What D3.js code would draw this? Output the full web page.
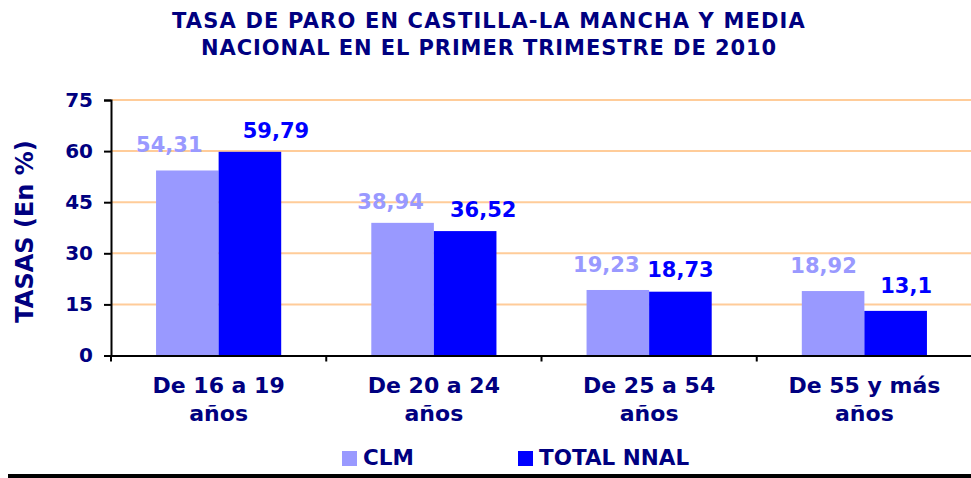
<!DOCTYPE html>
<html>
<head>
<meta charset="utf-8">
<script src="https://cdn.jsdelivr.net/npm/d3@7/dist/d3.min.js"></script>
<style>
  html, body { margin: 0; padding: 0; background: #fff; }
  svg { display: block; }
  text { font-family: "DejaVu Sans", Verdana, sans-serif; font-weight: bold; }
</style>
</head>
<body>
<svg id="chart" width="971" height="478"></svg>
<script>
// ---- data ----
const titleLines = ["TASA DE PARO EN CASTILLA-LA MANCHA Y MEDIA", "NACIONAL EN EL PRIMER TRIMESTRE DE 2010"];
const categories = [["De 16 a 19", "años"], ["De 20 a 24", "años"], ["De 25 a 54", "años"], ["De 55 y más", "años"]];
const seriesNames = ["CLM", "TOTAL NNAL"];
const clmValues = [54.31, 38.94, 19.23, 18.92];
const totalValues = [59.79, 36.52, 18.73, 13.1];
const yTicks = [0, 15, 30, 45, 60, 75];
const yTitle = "TASAS (En %)";

(function () {
// ---- layout (label nudges, not data) ----
const nudgeX = [[-18, -12, -11.5, -9.5], [26, 18, 0, 10.5]];
const nudgeY = [[18, 13.5, 18, 18], [14.3, 13.7, 14.3, 17.7]];
const colors = ["#9999FF", "#0000FF"];
const navy = "#000080";

const svg = d3.select("#chart");
const W = 971, H = 478;
const pl = 111, pr = 972, pt = 100, pb = 355.5;

const catKeys = categories.map(c => c.join(" "));
const x0 = d3.scaleBand().domain(catKeys).range([pl, pr]).paddingInner(0).paddingOuter(0);
const x1 = d3.scaleBand().domain(seriesNames).range([0, x0.bandwidth()]).paddingInner(0).paddingOuter(0.72);
const y = d3.scaleLinear().domain([0, 75]).range([pb, pt]);

const values = [clmValues, totalValues];

// gridlines
svg.append("g").selectAll("line").data(yTicks.filter(t => t > 0)).join("line")
  .attr("x1", pl).attr("x2", W).attr("y1", d => y(d)).attr("y2", d => y(d))
  .attr("stroke", "#FFCC99").attr("stroke-width", 2);

// bars
seriesNames.forEach((s, si) => {
  svg.append("g").selectAll("rect").data(values[si]).join("rect")
    .attr("x", (d, i) => x0(catKeys[i]) + x1(s))
    .attr("width", x1.bandwidth())
    .attr("y", d => y(d))
    .attr("height", d => y(0) - y(d))
    .attr("fill", colors[si]);
});

// y axis
const yAxis = d3.axisLeft(y).tickValues(yTicks).tickSize(7).tickPadding(11).tickFormat(d3.format("d"));
const gy = svg.append("g").attr("transform", `translate(${pl},0)`).call(yAxis);
gy.select(".domain").attr("stroke", "#000").attr("stroke-width", 2);
gy.selectAll(".tick line").attr("stroke", "#000").attr("stroke-width", 2);
gy.selectAll(".tick text").attr("fill", navy).style("font-size", "20px").style("font-family", "DejaVu Sans").style("font-weight", "bold");

// x axis
const xAxis = d3.axisBottom(x0).tickSize(0).tickFormat("");
const gx = svg.append("g").attr("transform", `translate(0,${pb})`).call(xAxis);
gx.select(".domain").attr("stroke", "#000").attr("stroke-width", 2);
gx.selectAll(".tick").remove();
const bounds = catKeys.map(k => x0(k)).concat([pr]);
gx.selectAll("line.bt").data(bounds).join("line").attr("class", "bt")
  .attr("x1", d => d).attr("x2", d => d).attr("y1", 0).attr("y2", 6)
  .attr("stroke", "#000").attr("stroke-width", 2);

// category labels
const catG = svg.append("g");
categories.forEach((c, i) => {
  const cx = x0(catKeys[i]) + x0.bandwidth() / 2;
  const t = catG.append("text").attr("x", cx).attr("y", 393)
    .attr("text-anchor", "middle").attr("fill", navy).style("font-size", "22px");
  c.forEach((line, li) => {
    t.append("tspan").attr("x", cx).attr("dy", li === 0 ? 0 : 28).text(line);
  });
});

// value labels
const fmt = v => String(v).replace(".", ",");
seriesNames.forEach((s, si) => {
  svg.append("g").selectAll("text").data(values[si]).join("text")
    .attr("x", (d, i) => x0(catKeys[i]) + x1(s) + x1.bandwidth() / 2 + nudgeX[si][i])
    .attr("y", (d, i) => y(d) - nudgeY[si][i])
    .attr("text-anchor", "middle").attr("fill", colors[si]).style("font-size", "21px")
    .text(d => fmt(d));
});

// y title
svg.append("text").attr("transform", `translate(33,231.5) rotate(-90)`)
  .attr("text-anchor", "middle").attr("fill", navy).style("font-size", "24px").text(yTitle);

// title
const titleW = [634, 576];
svg.append("g").selectAll("text").data(titleLines).join("text")
  .attr("x", 489).attr("y", (d, i) => 27.5 + i * 27.5)
  .attr("text-anchor", "middle").attr("fill", navy)
  .style("font-size", "21px")
  .text(d => d)
  .each(function (d, i) {
    const len = this.getComputedTextLength();
    const ls = (titleW[i] - len) / d.length;
    d3.select(this).style("letter-spacing", ls + "px");
  });

// legend
const legX = [342, 518];
const leg = svg.append("g");
seriesNames.forEach((s, si) => {
  leg.append("rect").attr("x", legX[si]).attr("y", 451).attr("width", 15).attr("height", 15).attr("fill", colors[si]);
  leg.append("text").attr("x", legX[si] + 21).attr("y", 465).attr("fill", navy).style("font-size", "21.5px").text(s);
});

// bottom rule
svg.append("line").attr("x1", 8).attr("x2", W).attr("y1", 476).attr("y2", 476).attr("stroke", "#000").attr("stroke-width", 4);
})();
</script>
</body>
</html>
